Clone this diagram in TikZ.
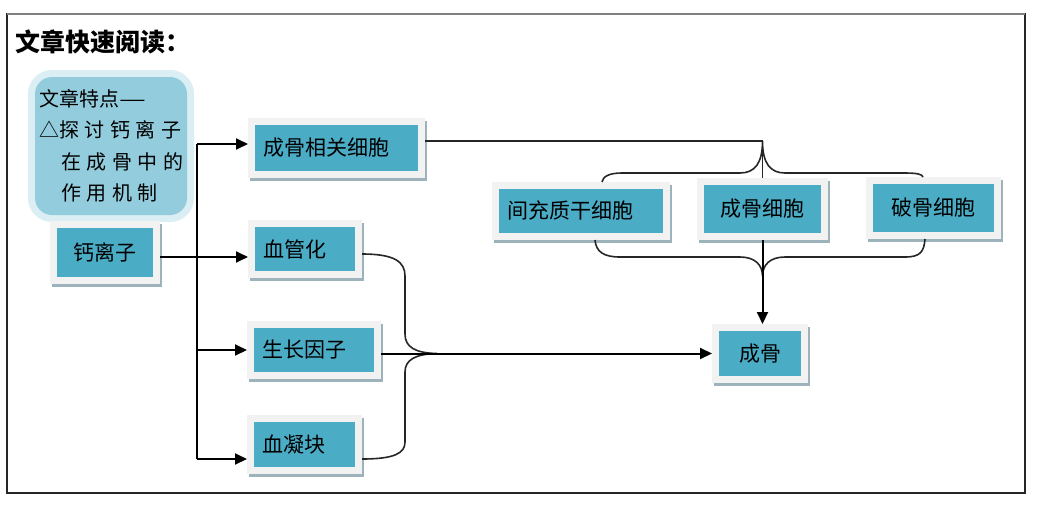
\documentclass[tikz,border=0pt]{standalone}
\usepackage{fontspec}
\setmainfont{Noto Sans CJK SC}
\newfontfamily\cjkspaced[LetterSpace=28]{Noto Sans CJK SC}
\usetikzlibrary{positioning,arrows.meta,calc}
\definecolor{boxfill}{HTML}{4BACC6}
\definecolor{boxframe}{HTML}{F2F2F2}
\definecolor{boxshadow}{HTML}{9CB3BC}
\definecolor{noteout}{HTML}{DAEEF3}
\definecolor{notein}{HTML}{93CDDD}

\begin{document}
\begin{tikzpicture}[x=1pt,y=-1pt,
mybox/.style={
  fill=boxfill,
  inner sep=0pt,
  outer sep=7pt,
  font=\fontsize{21pt}{25pt}\selectfont,
  preaction={draw=boxshadow, line width=14pt, transform canvas={shift={(2pt,-3pt)}}},
  preaction={draw=boxframe, line width=14pt}},
lbox/.style={align=left, inner xsep=8pt},
note/.style={
  fill=notein,
  rounded corners=17pt,
  preaction={draw=noteout, line width=14pt},
  minimum width=152pt, minimum height=138pt,
  text width=144pt, inner xsep=4pt, align=left,
  font=\fontsize{20pt}{31.5pt}\selectfont},
arr/.style={-{Triangle[length=12pt,width=11pt]}, line width=2pt},
brace/.style={line width=1.6pt, black!85}
]
\useasboundingbox (0,0) rectangle (1038,506);
\draw[black!85, line width=1.2pt] (7,14) rectangle (1025,493);
\draw[black!50, line width=1.5pt] (7,14) -- (1025,14);
\node[anchor=west, font=\bfseries\fontsize{25pt}{28pt}\selectfont] (title) at (12,42) {文章快速阅读：};
% note and boxes
\node[note] (tedian) at (111,146) {文章特点\scalebox{1.5}[1]{—}\\
  △{\cjkspaced 探讨钙离子}\\
  \hspace*{22pt}{\cjkspaced 在成骨中的}\\
  \hspace*{22pt}{\cjkspaced 作用机制}};
\node[mybox, minimum width=96pt, minimum height=49pt] (gai) at (105,252.5) {钙离子};
\node[mybox, lbox, text width=147pt, minimum height=46pt] (xgxb) at (336.5,148) {成骨相关细胞};
\node[mybox, lbox, text width=84pt, minimum height=44pt] (xgh) at (305,249) {血管化};
\node[mybox, lbox, text width=104pt, minimum height=44pt] (szyz) at (314,350) {生长因子};
\node[mybox, lbox, text width=85pt, minimum height=45pt] (xnk) at (304.5,444.5) {血凝块};
\node[mybox, lbox, text width=148pt, minimum height=44pt] (jcz) at (581,211) {间充质干细胞};
\node[mybox, minimum width=117pt, minimum height=48pt] (cgxb) at (762.5,209) {成骨细胞};
\node[mybox, minimum width=121pt, minimum height=48pt] (pgxb) at (933.5,208) {破骨细胞};
\node[mybox, minimum width=82pt, minimum height=45pt] (cg) at (760,353.5) {成骨};
% trunk from calcium
\coordinate (t1) at (197,144);
\coordinate (t4) at (197,459);
\draw[line width=1.6pt] (t4) -- (t1);
\draw[arr] (t1) -- (xgxb.west |- t1);
\draw[arr] (gai.east |- 0,257) -- (xgh.west |- 0,257);
\draw[arr] (t1 |- szyz.west) -- (szyz.west);
\draw[arr] (t4) -- (xnk.west |- t4);
% upper brace
\coordinate (tip1) at (762.5,141);
\draw[brace] (xgxb.east |- tip1) -- (tip1) -- (cgxb.north);
\draw[brace] (jcz.north -| 602,0) .. controls (603,177) and (608,173) .. (622,173)
  -- (740,173) .. controls (755,173) and (762.5,163) .. (tip1)
  .. controls (762.5,163) and (770,173) .. (785,173)
  -- (903,173) .. controls (917,173) and (922,174) .. (pgxb.north -| 923,0);
% lower brace
\coordinate (tip2) at (762.5,276);
\draw[brace] (jcz.south -| 595,0) .. controls (596,252) and (604,257) .. (620,257)
  -- (740,257) .. controls (755,257) and (762.5,265) .. (tip2)
  .. controls (762.5,265) and (770,257) .. (785,257)
  -- (905,257) .. controls (920,257) and (924,252) .. (pgxb.south -| 925,0);
\draw[arr] (cgxb.south) -- (cgxb.south |- cg.north);
% left brace
\coordinate (tip3) at (437,353.5);
\draw[brace] (xgh.east |- 0,254) .. controls (395,254) and (405,262) .. (405,276)
  -- (405,334) .. controls (405,347) and (415,353) .. (tip3)
  .. controls (415,354) and (405,360) .. (405,372)
  -- (405,442) .. controls (405,453) and (395,459) .. (xnk.east |- 0,459);
\draw[arr] (szyz.east |- cg.west) -- (cg.west);
\end{tikzpicture}
\end{document}
